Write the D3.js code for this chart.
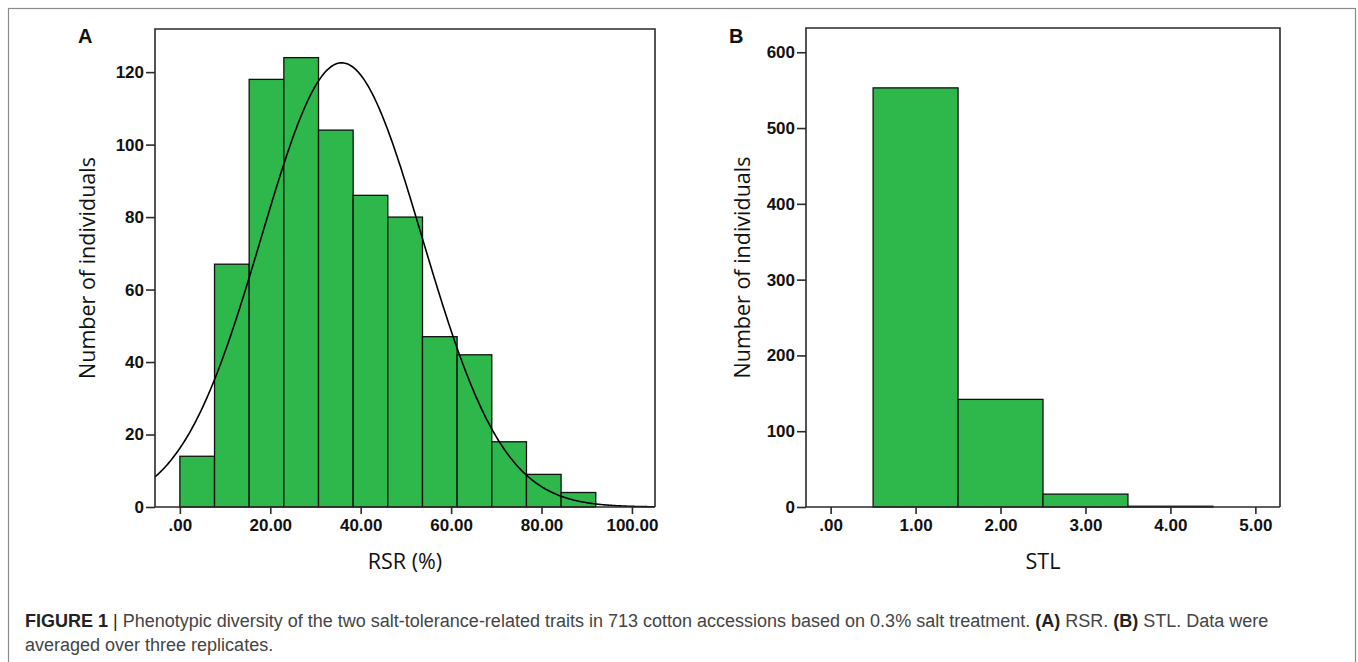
<!DOCTYPE html>
<html>
<head>
<meta charset="utf-8">
<script src="https://cdn.jsdelivr.net/npm/d3@7/dist/d3.min.js"></script>
<style>
  body { margin: 0; background: #fff; }
  svg { display: block; }
</style>
</head>
<body>
<svg id="fig" width="1358" height="662"></svg>
<script>
// ---- panel A: RSR (%) histogram ----
const rsrEdges = [0, 7.67, 15.33, 23, 30.67, 38.33, 46, 53.67, 61.33, 69, 76.67, 84.33, 92];
const rsrCounts = [14, 67, 118, 124, 104, 86, 80, 47, 42, 18, 9, 4];
const rsrTicksX = [0, 20, 40, 60, 80, 100];
const rsrTicksY = [0, 20, 40, 60, 80, 100, 120];
// fitted normal curve
const rsrMean = 35.8;
const rsrSd = 17.8;
const rsrN = 713;

// ---- panel B: STL histogram ----
const stlBins = [1, 2, 3, 4];
const stlCounts = [553, 142, 17, 1];
const stlTicksX = [0, 1, 2, 3, 4, 5];
const stlTicksY = [0, 100, 200, 300, 400, 500, 600];

const green = "#2eb84b";
const frameColor = "#2a2a2a";
const tickFont = "'Liberation Sans', Arial, sans-serif";
const titleFont = "'Open Sans', sans-serif";

const svg = d3.select("#fig");

// outer figure border
svg.append("rect")
    .attr("x", 8.5).attr("y", 8.5)
    .attr("width", 1347).attr("height", 720)
    .attr("fill", "none")
    .attr("stroke", "#8a8a8a")
    .attr("stroke-width", 1.2);

function fmt(d) {
    // SPSS style: .00, 20.00
    let s = d3.format(".2f")(d);
    return s.startsWith("0.") ? s.slice(1) : s;
}

function drawPanel(opt) {
    const g = svg.append("g");
    const x = opt.x, y = opt.y;
    const [x0, x1] = x.range();
    const [yb, yt] = y.range();

    // bars
    g.selectAll("rect.bar")
        .data(opt.bars)
        .join("rect")
        .attr("class", "bar")
        .attr("x", d => x(d.lo))
        .attr("width", d => x(d.hi) - x(d.lo))
        .attr("y", d => y(d.n))
        .attr("height", d => y(0) - y(d.n))
        .attr("fill", green)
        .attr("stroke", "#111")
        .attr("stroke-width", 1.3);

    if (opt.curve) {
        g.append("path")
            .datum(opt.curve)
            .attr("fill", "none")
            .attr("stroke", "#000")
            .attr("stroke-width", 1.6)
            .attr("d", d3.line().x(d => x(d[0])).y(d => y(d[1])));
    }

    // frame (top, right, left) + baseline
    g.append("path")
        .attr("d", `M${x0},${yb}V${yt}H${x1}V${yb}`)
        .attr("fill", "none")
        .attr("stroke", frameColor)
        .attr("stroke-width", 1.6);

    const xAxis = d3.axisBottom(x).tickValues(opt.ticksX).tickSize(7).tickPadding(5).tickFormat(fmt);
    const gx = g.append("g").attr("transform", `translate(0,${yb})`).call(xAxis);
    gx.select(".domain").attr("stroke", frameColor).attr("stroke-width", 1.6)
        .attr("d", `M${x0},0H${x1}`);

    const yAxis = d3.axisLeft(y).tickValues(opt.ticksY).tickSize(9).tickPadding(2);
    const gy = g.append("g").attr("transform", `translate(${x0},0)`).call(yAxis);
    gy.select(".domain").remove();

    [gx, gy].forEach(a => {
        a.selectAll(".tick line").attr("stroke", frameColor).attr("stroke-width", 1.6);
        a.selectAll(".tick text")
            .attr("font-family", tickFont)
            .attr("font-weight", "bold")
            .attr("font-size", 17)
            .attr("fill", "#111");
    });

    // panel letter
    g.append("text")
        .attr("x", opt.letterX).attr("y", 43)
        .attr("font-family", tickFont)
        .attr("font-weight", "bold")
        .attr("font-size", 20)
        .attr("fill", "#111")
        .text(opt.letter);

    // axis titles
    g.append("text")
        .attr("transform", `translate(${opt.yTitleX},${(yb + yt) / 2}) rotate(-90)`)
        .attr("text-anchor", "middle")
        .attr("font-family", titleFont)
        .attr("font-size", 21.5)
        .attr("fill", "#111")
        .text("Number of individuals");

    g.append("text")
        .attr("x", (x0 + x1) / 2).attr("y", 569)
        .attr("text-anchor", "middle")
        .attr("font-family", titleFont)
        .attr("font-size", 21.5)
        .attr("fill", "#111")
        .text(opt.xTitle);
}

// panel A
const xA = d3.scaleLinear().domain([-5.5, 105.1]).range([155, 655]);
const yA = d3.scaleLinear().domain([0, 131.9]).range([507, 29]);
const binW = rsrEdges[1] - rsrEdges[0];
const pdfScale = rsrN * binW / (rsrSd * Math.sqrt(2 * Math.PI));
const curvePts = d3.range(xA.domain()[0], xA.domain()[1] + 0.01, 0.25)
    .map(v => [v, pdfScale * Math.exp(-0.5 * ((v - rsrMean) / rsrSd) ** 2)]);

drawPanel({
    x: xA, y: yA,
    bars: rsrCounts.map((n, i) => ({ lo: rsrEdges[i], hi: rsrEdges[i + 1], n })),
    curve: curvePts,
    ticksX: rsrTicksX, ticksY: rsrTicksY,
    letter: "A", letterX: 78,
    yTitleX: 95, xTitle: "RSR (%)"
});

// panel B
const xB = d3.scaleLinear().domain([-0.29, 5.29]).range([806, 1280]);
const yB = d3.scaleLinear().domain([0, 632]).range([507, 28]);
drawPanel({
    x: xB, y: yB,
    bars: stlCounts.map((n, i) => ({ lo: stlBins[i] - 0.5, hi: stlBins[i] + 0.5, n })),
    curve: null,
    ticksX: stlTicksX, ticksY: stlTicksY,
    letter: "B", letterX: 729,
    yTitleX: 750, xTitle: "STL"
});

// caption
const cap = svg.append("text")
    .attr("font-family", tickFont)
    .attr("font-size", 18)
    .attr("fill", "#444");
const l1 = cap.append("tspan").attr("x", 25).attr("y", 627);
l1.append("tspan").attr("font-weight", "bold").attr("fill", "#222").text("FIGURE 1");
l1.append("tspan").attr("fill", "#222").text(" | ");
l1.append("tspan").text("Phenotypic diversity of the two salt-tolerance-related traits in 713 cotton accessions based on 0.3% salt treatment. ");
l1.append("tspan").attr("font-weight", "bold").attr("fill", "#222").text("(A)");
l1.append("tspan").text(" RSR. ");
l1.append("tspan").attr("font-weight", "bold").attr("fill", "#222").text("(B)");
l1.append("tspan").text(" STL. Data were");
cap.append("tspan").attr("x", 25).attr("y", 651).text("averaged over three replicates.");
</script>
</body>
</html>
